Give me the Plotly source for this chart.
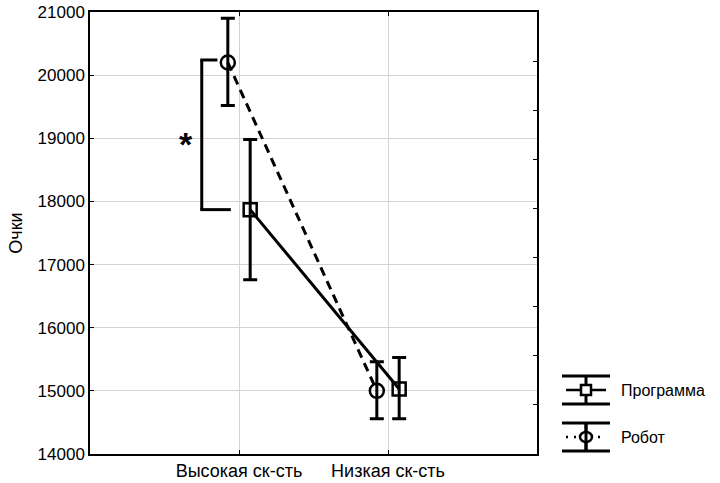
import plotly.graph_objects as go

# ---- data ----
categories = ["Высокая ск-сть", "Низкая ск-сть"]
series_names = ["Программа", "Робот"]
prog_mean = [17870, 15030]
prog_low = [16760, 14560]
prog_high = [18980, 15530]
robot_mean = [20200, 15000]
robot_low = [19520, 14560]
robot_high = [20900, 15460]
y_ticks = [14000, 15000, 16000, 17000, 18000, 19000, 20000, 21000]
y_ticktext = [str(v) for v in y_ticks]

offset = 0.075
xpos = list(range(len(categories)))
x_prog = [x + offset for x in xpos]
x_robot = [x - offset for x in xpos]

FONT = "Liberation Sans, Arial, sans-serif"
fig = go.Figure()

fig.add_trace(go.Scatter(
    x=x_prog, y=prog_mean, mode="lines+markers", name=series_names[0],
    line=dict(color="black", width=3),
    marker=dict(symbol="square-open", size=13, color="black", line=dict(width=2.5)),
    error_y=dict(type="data", symmetric=False,
                 array=[h - m for h, m in zip(prog_high, prog_mean)],
                 arrayminus=[m - l for m, l in zip(prog_mean, prog_low)],
                 color="black", thickness=3, width=7),
    showlegend=False))

fig.add_trace(go.Scatter(
    x=x_robot, y=robot_mean, mode="lines+markers", name=series_names[1],
    line=dict(color="black", width=3, dash="9px,6px"),
    marker=dict(symbol="circle-open", size=14, color="black", line=dict(width=2.5)),
    error_y=dict(type="data", symmetric=False,
                 array=[h - m for h, m in zip(robot_high, robot_mean)],
                 arrayminus=[m - l for m, l in zip(robot_mean, robot_low)],
                 color="black", thickness=3, width=7),
    showlegend=False))

# dummy trace to activate secondary y axis (right side ticks)
fig.add_trace(go.Scatter(x=[None], y=[None], yaxis="y2", showlegend=False, hoverinfo="skip"))

# significance bracket
bx = -0.25
shapes = [
    dict(type="line", xref="x", yref="y", x0=bx, x1=bx, y0=prog_mean[0], y1=robot_mean[0] + 40,
         line=dict(color="black", width=3)),
    dict(type="line", xref="x", yref="y", x0=bx - 0.01, x1=-0.145, y0=robot_mean[0] + 40, y1=robot_mean[0] + 40,
         line=dict(color="black", width=3)),
    dict(type="line", xref="x", yref="y", x0=bx - 0.01, x1=-0.055, y0=prog_mean[0], y1=prog_mean[0],
         line=dict(color="black", width=3)),
]

# legend glyphs (paper coords)
def px(xp):
    return (xp - 90) / 447.0

def py(yp):
    return (454 - yp) / 442.0

def legend_glyph(cy, marker, dashed):
    s = []
    for cap in (cy - 14, cy + 14):
        s.append(dict(type="line", xref="paper", yref="paper", x0=px(562), x1=px(610),
                      y0=py(cap), y1=py(cap), line=dict(color="black", width=3)))
    s.append(dict(type="line", xref="paper", yref="paper", x0=px(586), x1=px(586),
                  y0=py(cy - 14), y1=py(cy + 14), line=dict(color="black", width=3)))
    s.append(dict(type="line", xref="paper", yref="paper", x0=px(566), x1=px(606),
                  y0=py(cy), y1=py(cy),
                  line=dict(color="black", width=2.5, dash="2px,6px" if dashed else "solid")))
    if marker == "square":
        s.append(dict(type="rect", xref="paper", yref="paper", x0=px(581), x1=px(591),
                      y0=py(cy - 5), y1=py(cy + 5), line=dict(color="black", width=2.5),
                      fillcolor="white"))
    else:
        s.append(dict(type="circle", xref="paper", yref="paper", x0=px(580), x1=px(592),
                      y0=py(cy - 5), y1=py(cy + 5), line=dict(color="black", width=2.5),
                      fillcolor="white"))
        s.append(dict(type="line", xref="paper", yref="paper", x0=px(586), x1=px(586),
                      y0=py(cy - 14), y1=py(cy + 14), line=dict(color="black", width=3)))
    return s

shapes += legend_glyph(390, "square", False)
shapes += legend_glyph(437, "circle", True)

annotations = [
    dict(x=-0.355, y=19000, xref="x", yref="y", text="<b>*</b>", showarrow=False,
         font=dict(family=FONT, size=34, color="black"), yshift=-6),
    dict(x=px(619), y=py(390), xref="paper", yref="paper", text=series_names[0], showarrow=False,
         xanchor="left", yanchor="middle", font=dict(family=FONT, size=16, color="black")),
    dict(x=px(619), y=py(437), xref="paper", yref="paper", text=series_names[1], showarrow=False,
         xanchor="left", yanchor="middle", font=dict(family=FONT, size=16, color="black")),
]

fig.update_layout(
    width=720, height=483,
    margin=dict(l=90, r=183, t=12, b=29),
    paper_bgcolor="white", plot_bgcolor="white",
    font=dict(family=FONT, size=17, color="black"),
    xaxis=dict(range=[-1, 2], tickvals=xpos, ticktext=categories, automargin=False,
               showgrid=True, gridcolor="#d3d3d3", gridwidth=1,
               showline=True, linecolor="black", linewidth=1.5, mirror="ticks",
               ticks="inside", ticklen=4, tickcolor="black", zeroline=False,
               tickfont=dict(family=FONT, size=18, color="black")),
    yaxis=dict(range=[14000, 21000], tickvals=y_ticks, ticktext=y_ticktext, automargin=False,
               showgrid=True, gridcolor="#d3d3d3", gridwidth=1,
               showline=True, linecolor="black", linewidth=1.5, mirror=True,
               ticks="inside", ticklen=4, tickcolor="black", zeroline=False,
               title=dict(text="Очки", font=dict(family=FONT, size=18, color="black"), standoff=10),
               tickfont=dict(family=FONT, size=17, color="black")),
    yaxis2=dict(range=[0, 9], dtick=1, overlaying="y", side="right", automargin=False,
                showgrid=False, showticklabels=False, ticks="inside", ticklen=4,
                tickcolor="black", zeroline=False, showline=False),
    shapes=shapes, annotations=annotations, showlegend=False,
)

fig.write_html("out.html", config={"displayModeBar": False},
               post_script="document.body.style.margin='0px';")
